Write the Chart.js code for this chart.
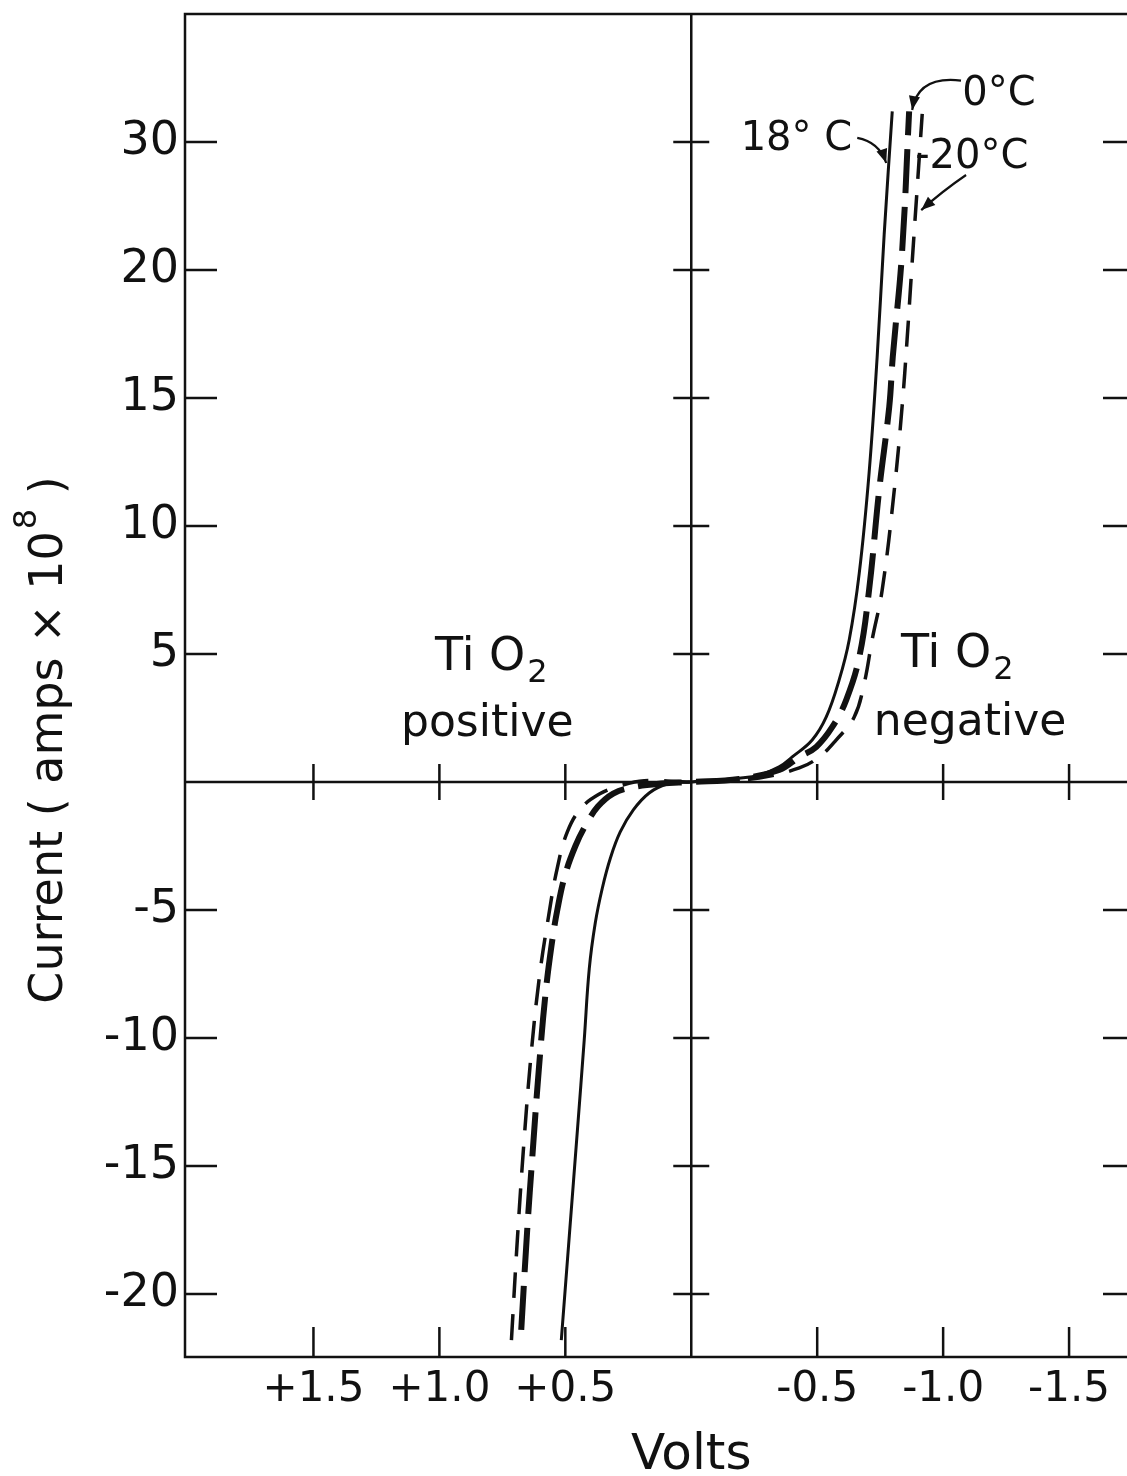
<!DOCTYPE html>
<html>
<head>
<meta charset="utf-8">
<script src="https://cdn.jsdelivr.net/npm/chart.js@4"></script>
<style>
  html, body { margin: 0; padding: 0; background: #fff; }
  canvas { display: block; }
</style>
</head>
<body>
<canvas id="ivChart" width="1127" height="1476"></canvas>
<script>
// Volts (axis runs reversed: positive voltage on the left), current in amps x 10^8
const volts18 = [0.516, 0.484, 0.452, 0.425, 0.405, 0.381, 0.353, 0.321, 0.282, 0.23, 0.167, 0.095, 0,
  -0.19, -0.27, -0.349, -0.401, -0.48, -0.536, -0.587, -0.627, -0.667, -0.706, -0.738, -0.766, -0.798];
const current18 = [-21.8, -17.7, -13.6, -10.08, -7.3, -5.5, -4.14, -2.97, -1.95, -1.09, -0.43, -0.08, 0,
  0.15, 0.27, 0.59, 0.98, 1.64, 2.54, 3.98, 5.55, 8.16, 12.07, 16.6, 21.4, 26.2];

const volts0 = [0.675, 0.652, 0.63, 0.605, 0.58, 0.555, 0.53, 0.5, 0.46, 0.42, 0.37, 0.31, 0.24, 0.12, 0,
  -0.19, -0.349, -0.429, -0.496, -0.56, -0.615, -0.667, -0.706, -0.746, -0.786, -0.8, -0.837, -0.865];
const current0 = [-21.4, -17.6, -14.5, -11.2, -8.4, -6.4, -4.9, -3.6, -2.5, -1.7, -0.95, -0.45, -0.22, -0.06, 0,
  0.12, 0.47, 0.98, 1.37, 2.15, 3.2, 4.88, 7.5, 11.4, 14.65, 16.6, 20.7, 26.2];

const voltsMinus20 = [0.714, 0.69, 0.663, 0.635, 0.603, 0.567, 0.532, 0.492, 0.437, 0.365, 0.286, 0.187, 0,
  -0.11, -0.27, -0.429, -0.508, -0.575, -0.647, -0.687, -0.718, -0.758, -0.806, -0.837, -0.857, -0.877, -0.897, -0.917];
const currentMinus20 = [-21.8, -17.8, -13.9, -10.55, -7.62, -5.27, -3.36, -1.95, -1.02, -0.47, -0.16, 0.05, 0,
  0.04, 0.16, 0.55, 0.98, 1.64, 2.54, 3.87, 5.55, 7.5, 11.4, 14.65, 17.3, 20.3, 23.2, 26.1];

const xTickValues = [1.5, 1.0, 0.5, -0.5, -1.0, -1.5];
const xTickLabels = ['+1.5', '+1.0', '+0.5', '-0.5', '-1.0', '-1.5'];
const yTickValues = [25, 20, 15, 10, 5, -5, -10, -15, -20];
const yTickLabels = ['30', '20', '15', '10', '5', '-5', '-10', '-15', '-20'];

const INK = '#111';
const FONT = '"DejaVu Sans", sans-serif';

function toPoints(xs, ys) {
  return xs.map((x, i) => ({ x: x, y: ys[i] }));
}

function drawFormula(ctx, cx, baseline) {
  // "Ti O" with a subscript 2
  ctx.font = '46px ' + FONT;
  const w1 = ctx.measureText('Ti O').width;
  ctx.font = '32px ' + FONT;
  const w2 = ctx.measureText('2').width;
  const sx = cx - (w1 + w2 + 2) / 2;
  ctx.textAlign = 'left';
  ctx.font = '46px ' + FONT;
  ctx.fillText('Ti O', sx, baseline);
  ctx.font = '32px ' + FONT;
  ctx.fillText('2', sx + w1 + 2, baseline + 12);
}

function drawArrow(ctx, p0, c, p1) {
  ctx.beginPath();
  ctx.moveTo(p0.x, p0.y);
  ctx.quadraticCurveTo(c.x, c.y, p1.x, p1.y);
  ctx.stroke();
  const ang = Math.atan2(p1.y - c.y, p1.x - c.x);
  const L = 15;
  ctx.beginPath();
  ctx.moveTo(p1.x, p1.y);
  ctx.lineTo(p1.x - L * Math.cos(ang - 0.38), p1.y - L * Math.sin(ang - 0.38));
  ctx.lineTo(p1.x - L * Math.cos(ang + 0.38), p1.y - L * Math.sin(ang + 0.38));
  ctx.closePath();
  ctx.fill();
}

const framePlugin = {
  id: 'frame',
  beforeDatasetsDraw(chart) {
    const { ctx, chartArea: a, scales: { x, y } } = chart;
    const x0 = x.getPixelForValue(0);
    const y0 = y.getPixelForValue(0);
    ctx.save();
    ctx.strokeStyle = INK;
    ctx.lineWidth = 2.5;
    ctx.beginPath();
    ctx.moveTo(a.right, a.top);
    ctx.lineTo(a.left, a.top);
    ctx.lineTo(a.left, a.bottom);
    ctx.lineTo(a.right, a.bottom);
    ctx.moveTo(x0, a.top);
    ctx.lineTo(x0, a.bottom);
    ctx.moveTo(a.left, y0);
    ctx.lineTo(a.right, y0);
    yTickValues.forEach(v => {
      const py = y.getPixelForValue(v);
      ctx.moveTo(a.left, py); ctx.lineTo(a.left + 32, py);
      ctx.moveTo(x0 - 18, py); ctx.lineTo(x0 + 18, py);
      ctx.moveTo(a.right - 24, py); ctx.lineTo(a.right, py);
    });
    xTickValues.forEach(v => {
      const px = x.getPixelForValue(v);
      ctx.moveTo(px, a.bottom); ctx.lineTo(px, a.bottom - 30);
      ctx.moveTo(px, y0 - 18); ctx.lineTo(px, y0 + 18);
    });
    ctx.stroke();
    ctx.restore();
  },
  afterDatasetsDraw(chart) {
    const { ctx, scales: { x, y } } = chart;
    const P = (v, i) => ({ x: x.getPixelForValue(v), y: y.getPixelForValue(i) });
    ctx.save();
    ctx.fillStyle = INK;
    ctx.strokeStyle = INK;
    ctx.lineWidth = 2.2;
    ctx.textBaseline = 'alphabetic';

    // region labels
    let p = P(0.794, 4.375);
    drawFormula(ctx, p.x, p.y);
    p = P(0.81, 1.8);
    ctx.textAlign = 'center';
    ctx.font = '44px ' + FONT;
    ctx.fillText('positive', p.x, p.y);
    p = P(-1.056, 4.5);
    drawFormula(ctx, p.x, p.y);
    p = P(-1.107, 1.84);
    ctx.textAlign = 'center';
    ctx.font = '44px ' + FONT;
    ctx.fillText('negative', p.x, p.y);

    // temperature labels
    ctx.font = '40px ' + FONT;
    p = P(-1.222, 26.45);
    ctx.textAlign = 'center';
    ctx.fillText('0°C', p.x, p.y);
    p = P(-0.639, 24.69);
    ctx.textAlign = 'right';
    ctx.fillText('18° C', p.x, p.y);
    p = P(-0.889, 23.98);
    ctx.textAlign = 'left';
    ctx.fillText('-20°C', p.x, p.y);

    drawArrow(ctx, P(-1.071, 27.4), P(-0.9, 27.6), P(-0.877, 26.25));
    drawArrow(ctx, P(-0.659, 25.16), P(-0.746, 25.0), P(-0.774, 24.18));
    drawArrow(ctx, P(-1.091, 23.71), P(-1.0, 23.1), P(-0.913, 22.34));

    // axis titles
    ctx.textAlign = 'left';
    ctx.font = '50px ' + FONT;
    const vw = ctx.measureText('Volts').width;
    ctx.fillText('Volts', x.getPixelForValue(0) - vw / 2, 1469);

    ctx.translate(45, 740);
    ctx.rotate(-Math.PI / 2);
    ctx.font = '46px ' + FONT;
    const t1 = 'Current ( amps × 10', t3 = ' )';
    const w1 = ctx.measureText(t1).width;
    const w3 = ctx.measureText(t3).width;
    ctx.font = '32px ' + FONT;
    const w2 = ctx.measureText('8').width;
    const sx = -(w1 + w2 + w3 + 2) / 2;
    ctx.font = '46px ' + FONT;
    ctx.fillText(t1, sx, 17);
    ctx.font = '32px ' + FONT;
    ctx.fillText('8', sx + w1 + 2, -9);
    ctx.font = '46px ' + FONT;
    ctx.fillText(t3, sx + w1 + w2 + 2, 17);
    ctx.restore();
  }
};

new Chart(document.getElementById('ivChart').getContext('2d'), {
  type: 'line',
  data: {
    datasets: [
      {
        label: '18° C',
        data: toPoints(volts18, current18),
        borderColor: INK,
        borderWidth: 3,
        tension: 0.4,
        fill: false
      },
      {
        label: '0°C',
        data: toPoints(volts0, current0),
        borderColor: INK,
        borderWidth: 6,
        borderDash: [44, 14],
        tension: 0.4,
        fill: false
      },
      {
        label: '-20°C',
        data: toPoints(voltsMinus20, currentMinus20),
        borderColor: INK,
        borderWidth: 3.5,
        borderDash: [26, 16],
        tension: 0.4,
        fill: false
      }
    ]
  },
  options: {
    responsive: false,
    animation: false,
    devicePixelRatio: 1,
    layout: { padding: { top: 14, right: 0, bottom: 0, left: 0 } },
    elements: { point: { radius: 0 } },
    plugins: {
      legend: { display: false },
      tooltip: { enabled: false }
    },
    scales: {
      x: {
        type: 'linear',
        reverse: true,
        min: -1.73,
        max: 2.01,
        grid: { display: false, drawTicks: false },
        border: { display: false },
        afterBuildTicks: s => { s.ticks = xTickValues.map(v => ({ value: v })); },
        afterFit: s => { s.height = 119; s.paddingLeft = 0; s.paddingRight = 0; },
        ticks: {
          autoSkip: false,
          maxRotation: 0,
          color: INK,
          padding: 8,
          font: { family: FONT, size: 42 },
          callback: (v, i) => xTickLabels[i]
        }
      },
      y: {
        type: 'linear',
        min: -22.46,
        max: 30,
        grid: { display: false, drawTicks: false },
        border: { display: false },
        afterBuildTicks: s => { s.ticks = yTickValues.map(v => ({ value: v })); },
        afterFit: s => { s.width = 185; s.paddingTop = 0; s.paddingBottom = 0; },
        ticks: {
          autoSkip: false,
          color: INK,
          padding: 6,
          font: { family: FONT, size: 46 },
          callback: (v, i) => yTickLabels[i]
        }
      }
    }
  },
  plugins: [framePlugin]
});
</script>
</body>
</html>
